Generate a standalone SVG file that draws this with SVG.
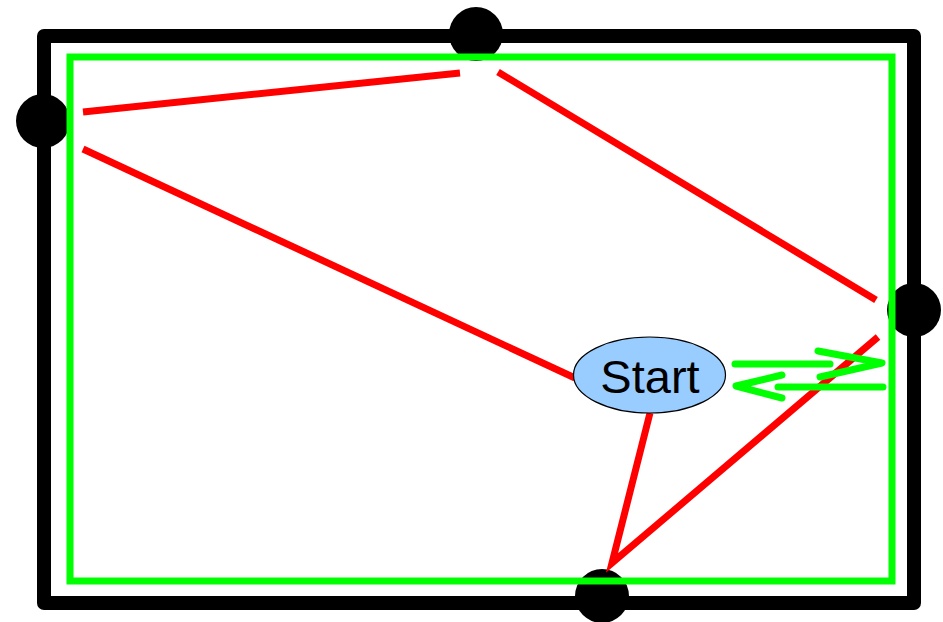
<svg xmlns="http://www.w3.org/2000/svg" width="943" height="622" viewBox="0 0 943 622">
<style>
.red{stroke:#ff0000;stroke-width:7;fill:none}
.grn{stroke:#00ff00;stroke-width:7;fill:none;stroke-linecap:round;stroke-linejoin:round}
.dot{fill:#000}
</style>
<rect width="943" height="622" fill="#fff"/>
<g id="frame">
<rect x="44" y="36" width="870" height="567" fill="none" stroke="#000" stroke-width="14" stroke-linejoin="round"/>
</g>
<g id="top"><circle class="dot" cx="476" cy="34" r="27"/></g>
<g id="left"><circle class="dot" cx="43" cy="121" r="27"/></g>
<g id="right"><circle class="dot" cx="914" cy="310" r="27"/></g>
<g id="bottom"><circle class="dot" cx="602" cy="596" r="27"/></g>
<g id="inner">
<rect x="70" y="57" width="822" height="524" fill="none" stroke="#00ff00" stroke-width="7"/>
</g>
<g id="connectors">
<line class="red" x1="83" y1="112" x2="460" y2="73"/>
<line class="red" x1="83" y1="149" x2="575" y2="378"/>
<line class="red" x1="498" y1="72" x2="876" y2="300"/>
<polyline class="red" points="878,337 612,563 650,413"/>
<line class="grn" x1="735" y1="364" x2="830" y2="364"/>
<polyline class="grn" points="818,351 882,363 820,377"/>
<line class="grn" x1="778" y1="387" x2="883" y2="387"/>
<polyline class="grn" points="782,375 736,386 782,398"/>
</g>
<g id="start">
<ellipse cx="649.5" cy="375" rx="76" ry="38" fill="#99ccff" stroke="#000" stroke-width="1.2"/>
<text x="650" y="393" font-family="Liberation Sans, Arial, sans-serif" font-size="47" text-anchor="middle" fill="#000">Start</text>
</g>
</svg>
